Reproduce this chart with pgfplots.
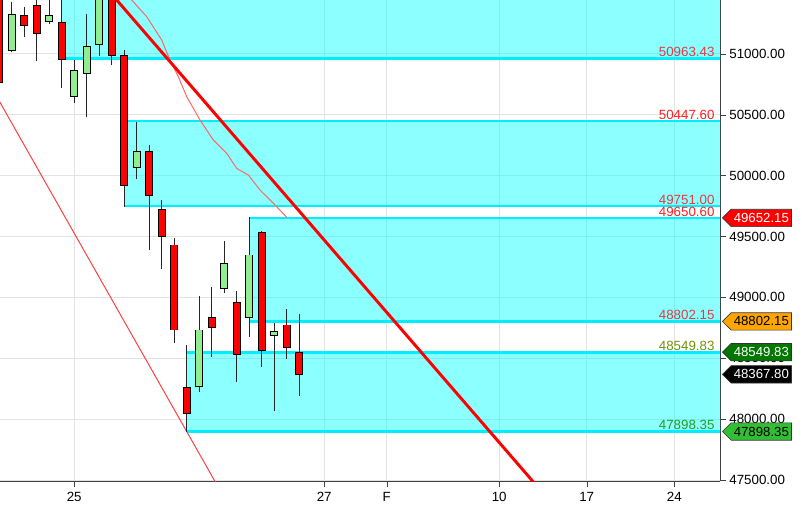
\documentclass[border=0pt]{standalone}
\usepackage{pgfplots}
\pgfplotsset{compat=1.18}
\usepackage{pgfplotstable}
\usepackage{fontspec}
\setmainfont{Liberation Sans}
\usetikzlibrary{shapes.symbols}

\definecolor{candlered}{RGB}{255,0,0}
\definecolor{candlegreen}{RGB}{144,238,144}
\definecolor{zonecyan}{RGB}{0,255,255}
\definecolor{zoneline}{RGB}{0,238,255}
\definecolor{lblred}{RGB}{222,60,70}
\definecolor{lblbright}{RGB}{255,30,30}
\definecolor{lblolive}{RGB}{115,145,10}
\definecolor{lblgreen}{RGB}{40,155,40}
\definecolor{tagorange}{RGB}{255,165,0}
\definecolor{tagdkgreen}{RGB}{0,120,0}
\definecolor{taggreen}{RGB}{50,190,50}

% red candles: index, open, high, low, close
\pgfplotstableread{
k o h l c
0 51550 51560 50750 50763
2 51316 51382 51140 51234
3 51401 51470 50941 51171
5 51255 51470 50717 50955
9 51550 51560 50906 50984
10 50990 51031 49745 49920
12 50196 50254 49389 49838
13 49718 49800 49231 49500
14 49430 49485 48623 48732
15 48259 48610 47898 48043
17 48837 49083 48513 48749
19 48957 49053 48308 48533
21 49535 49545 48431 48566
23 48773 48902 48492 48587
24 48546 48861 48193 48367.80
}\redc
% green candles
\pgfplotstableread{
k o h l c
1 51031 51428 51012 51319
4 51264 51470 51242 51316
6 50648 50949 50594 50865
7 50842 51329 50479 51062
8 51080 51560 50982 51550
11 50065 50443 49972 50196
16 48267 49012 48221 48732
18 49075 49461 49034 49280
20 48833 49658 48677 49348
22 48689 48787 48070 48722
}\greenc

\tikzset{tag/.style={signal, signal to=west, signal pointer angle=90,
  draw=black!80, line width=0.5pt, anchor=west, inner xsep=2pt, inner ysep=0.5pt,
  minimum height=13pt, font=\fontsize{9.9}{11}\selectfont}}
\tikzset{zlabel/.style={anchor=south east, inner sep=1pt, font=\fontsize{10}{11}\selectfont}}

\begin{document}
\begin{tikzpicture}
\useasboundingbox (0,-17.6pt) rectangle (601.5pt,361.1pt);
\begin{axis}[
  at={(0,0)}, anchor=south west,
  scale only axis, width=540pt, height=361.1pt,
  xmin=0.064, xmax=57.66, ymin=47488, ymax=51442,
  axis x line*=bottom, axis y line*=right,
  axis line style={black!75},
  tick align=outside, major tick length=4.5pt,
  tick style={black!75},
  xtick={6,26,31,40,47,54},
  xticklabels={25,27,F,10,17,24},
  ytick={47500,48000,...,51000},
  scaled y ticks=false,
  yticklabel={\pgfmathprintnumber[fixed,fixed zerofill,precision=2,1000 sep={}]{\tick}},
  /pgf/number format/assume math mode=true,
  ticklabel style={font=\fontsize{10}{11}\selectfont},
  yticklabel style={xshift=-1pt},
  grid=major, major grid style={gray!22, line width=0.75pt},
]
% zones
\addplot [draw=none, fill=zonecyan, fill opacity=0.45, forget plot] coordinates {(5,50963.43) (60,50963.43) (60,51600) (5,51600)} -- cycle;
\addplot [draw=none, fill=zonecyan, fill opacity=0.45, forget plot] coordinates {(10,49751.00) (60,49751.00) (60,50447.60) (10,50447.60)} -- cycle;
\addplot [draw=none, fill=zonecyan, fill opacity=0.45, forget plot] coordinates {(20,48802.15) (60,48802.15) (60,49650.60) (20,49650.60)} -- cycle;
\addplot [draw=none, fill=zonecyan, fill opacity=0.45, forget plot] coordinates {(15,47898.35) (60,47898.35) (60,48549.83) (15,48549.83)} -- cycle;
% zone borders
\addplot [zoneline, line width=2pt, forget plot] coordinates {(5,50963.43) (60,50963.43)};
\addplot [zoneline, line width=2pt, forget plot] coordinates {(10,50447.60) (60,50447.60)};
\addplot [zoneline, line width=2pt, forget plot] coordinates {(10,49751.00) (60,49751.00)};
\addplot [zoneline, line width=2pt, forget plot] coordinates {(20,49650.60) (60,49650.60)};
\addplot [zoneline, line width=2pt, forget plot] coordinates {(20,48802.15) (60,48802.15)};
\addplot [zoneline, line width=2pt, forget plot] coordinates {(15,48549.83) (60,48549.83)};
\addplot [zoneline, line width=2pt, forget plot] coordinates {(15,47898.35) (60,47898.35)};
% zone labels
\node[zlabel, text=lblred] at (axis cs:57.35,50963.43) {50963.43};
\node[zlabel, text=lblbright] at (axis cs:57.35,50447.60) {50447.60};
\node[zlabel, text=lblred] at (axis cs:57.35,49751.00) {49751.00};
\node[zlabel, text=lblbright] at (axis cs:57.35,49650.60) {49650.60};
\node[zlabel, text=lblred] at (axis cs:57.35,48802.15) {48802.15};
\node[zlabel, text=lblolive] at (axis cs:57.35,48549.83) {48549.83};
\node[zlabel, text=lblgreen] at (axis cs:57.35,47898.35) {47898.35};
% trend lines
\addplot [red!75, line width=0.75pt, forget plot] coordinates {(0,50613) (17.5,47445.5)};
\addplot [red!60, line width=0.75pt, forget plot] coordinates {(10.0,51520) (10.6,51442) (11.8,51305) (13.0,51113) (13.66,50949) (14.33,50812) (15.0,50648) (16.06,50457) (17.13,50292) (18.2,50183) (19.0,50059) (19.93,50005) (20.86,49882) (21.93,49773) (23.0,49658)};
\addplot [red, line width=2.2pt, forget plot] coordinates {(9.0,51489.5) (43.0,47452)};
% wicks
\addplot [draw=none, mark=none, forget plot, error bars/.cd, y dir=plus, y explicit, error mark=none, error bar style={draw=black!85, line width=0.9pt}] table [x=k, y=l, y error expr=\thisrow{h}-\thisrow{l}] {\redc};
\addplot [draw=none, mark=none, forget plot, error bars/.cd, y dir=plus, y explicit, error mark=none, error bar style={draw=black!85, line width=0.9pt}] table [x=k, y=l, y error expr=\thisrow{h}-\thisrow{l}] {\greenc};
% bodies (outline then fill)
\addplot [draw=none, mark=none, forget plot, error bars/.cd, y dir=both, y explicit, error mark=none, error bar style={draw=black, line width=5.8pt}] table [x=k, y expr=(\thisrow{o}+\thisrow{c})/2, y error expr=abs(\thisrow{c}-\thisrow{o})/2+4] {\redc};
\addplot [draw=none, mark=none, forget plot, error bars/.cd, y dir=both, y explicit, error mark=none, error bar style={draw=candlered, line width=4.3pt}] table [x=k, y expr=(\thisrow{o}+\thisrow{c})/2, y error expr=abs(\thisrow{c}-\thisrow{o})/2-4] {\redc};
\addplot [draw=none, mark=none, forget plot, error bars/.cd, y dir=both, y explicit, error mark=none, error bar style={draw=black, line width=5.8pt}] table [x=k, y expr=(\thisrow{o}+\thisrow{c})/2, y error expr=abs(\thisrow{c}-\thisrow{o})/2+4] {\greenc};
\addplot [draw=none, mark=none, forget plot, error bars/.cd, y dir=both, y explicit, error mark=none, error bar style={draw=candlegreen, line width=4.3pt}] table [x=k, y expr=(\thisrow{o}+\thisrow{c})/2, y error expr=abs(\thisrow{c}-\thisrow{o})/2-4] {\greenc};
% tag anchors
\coordinate (t1) at (axis cs:57.66,49652.15);
\coordinate (t2) at (axis cs:57.66,48802.15);
\coordinate (t3) at (axis cs:57.66,48549.83);
\coordinate (t4) at (axis cs:57.66,48367.80);
\coordinate (t5) at (axis cs:57.66,47898.35);
\end{axis}
\node[tag, fill=candlered, text=white] at ([xshift=1.5pt]t1) {49652.15};
\node[tag, fill=tagorange, text=black] at ([xshift=1.5pt]t2) {48802.15};
\node[tag, fill=tagdkgreen, text=white] at ([xshift=1.5pt]t3) {48549.83};
\node[tag, fill=black, text=white] at ([xshift=1.5pt]t4) {48367.80};
\node[tag, fill=taggreen, text=black] at ([xshift=1.5pt]t5) {47898.35};
\end{tikzpicture}
\end{document}
